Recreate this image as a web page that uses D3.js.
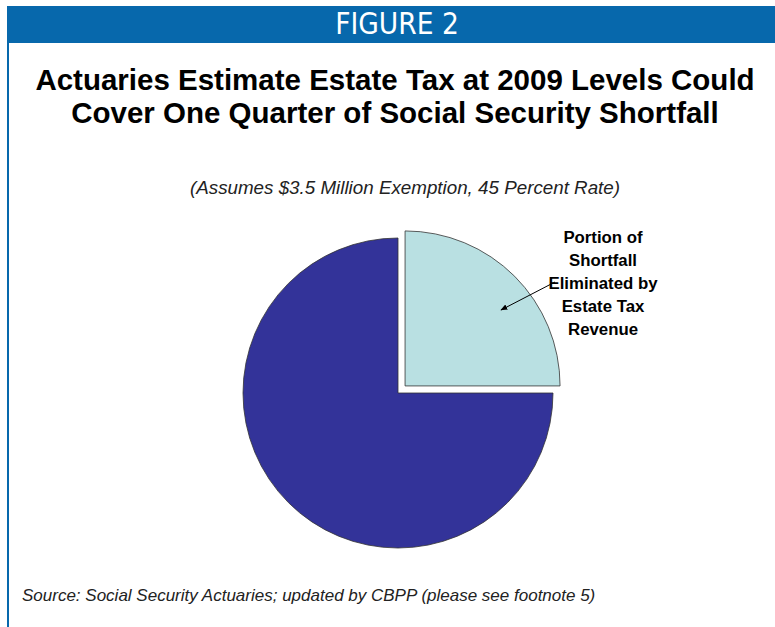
<!DOCTYPE html>
<html>
<head>
<meta charset="utf-8">
<script src="https://cdn.jsdelivr.net/npm/d3@7"></script>
<style>
  body { margin: 0; background: #fff; }
  svg { display: block; }
</style>
</head>
<body>
<svg id="chart"></svg>
<script>
// data
const categories = ["Portion of Shortfall Eliminated by Estate Tax Revenue", "Remaining Shortfall"];
const shares = [25, 75];
const colors = ["#b9e0e2", "#333399"];
const labelLines = ["Portion of", "Shortfall", "Eliminated by", "Estate Tax", "Revenue"];
const titleLines = ["Actuaries Estimate Estate Tax at 2009 Levels Could", "Cover One Quarter of Social Security Shortfall"];
const subtitle = "(Assumes $3.5 Million Exemption, 45 Percent Rate)";
const source = "Source: Social Security Actuaries; updated by CBPP (please see footnote 5)";

const width = 775, height = 627;

const svg = d3.select("#chart")
    .attr("width", width)
    .attr("height", height)
    .attr("font-family", "'Liberation Sans', Arial, sans-serif");

svg.append("defs").append("marker")
    .attr("id", "arrow")
    .attr("viewBox", "0 0 10 10")
    .attr("refX", 9).attr("refY", 5)
    .attr("markerWidth", 7).attr("markerHeight", 7)
    .attr("orient", "auto")
  .append("path")
    .attr("d", "M0,1 L10,5 L0,9 z")
    .attr("fill", "#000");

// header band + left rule
svg.append("rect")
    .attr("x", 7).attr("y", 6)
    .attr("width", width - 7).attr("height", 37)
    .attr("fill", "#0768ac");
svg.append("rect")
    .attr("x", 7).attr("y", 43)
    .attr("width", 2).attr("height", height - 43)
    .attr("fill", "#0768ac");

svg.append("text")
    .attr("x", 397).attr("y", 34)
    .attr("text-anchor", "middle")
    .attr("fill", "#fff")
    .attr("font-family", "'DejaVu Sans Condensed', 'DejaVu Sans', sans-serif")
    .style("font-stretch", "condensed")
    .attr("font-size", 29.5)
    .text("FIGURE 2");

svg.append("g")
    .attr("font-weight", "bold")
    .attr("font-size", 29.5)
    .attr("text-anchor", "middle")
  .selectAll("text")
  .data(titleLines)
  .join("text")
    .attr("x", 395)
    .attr("y", (d, i) => 90 + i * 33)
    .text(d => d);

svg.append("text")
    .attr("x", 405).attr("y", 194)
    .attr("text-anchor", "middle")
    .attr("font-style", "italic")
    .attr("font-size", 18.8)
    .attr("fill", "#222")
    .text(subtitle);

// pie
const cx = 398, cy = 393, r = 155, explode = 10;
const pie = d3.pie().sort(null).value(d => d)(shares);
const arc = d3.arc().innerRadius(0).outerRadius(r);

const g = svg.append("g").attr("transform", `translate(${cx},${cy})`);
g.selectAll("path")
  .data(pie)
  .join("path")
    .attr("d", arc)
    .attr("fill", (d, i) => colors[i])
    .attr("stroke", "#333")
    .attr("stroke-width", 0.8)
    .attr("transform", (d, i) => {
      if (i !== 0) return null;
      const mid = (d.startAngle + d.endAngle) / 2;
      return `translate(${Math.sin(mid) * explode},${-Math.cos(mid) * explode})`;
    });

// label + arrow
svg.append("g")
    .attr("font-weight", "bold")
    .attr("font-size", 16.8)
    .attr("text-anchor", "middle")
  .selectAll("text")
  .data(labelLines)
  .join("text")
    .attr("x", 603)
    .attr("y", (d, i) => 243 + i * 23)
    .text(d => d);

svg.append("line")
    .attr("x1", 555).attr("y1", 282)
    .attr("x2", 501).attr("y2", 310)
    .attr("stroke", "#000")
    .attr("stroke-width", 1)
    .attr("marker-end", "url(#arrow)");

svg.append("text")
    .attr("x", 22).attr("y", 601)
    .attr("font-style", "italic")
    .attr("font-size", 17)
    .attr("fill", "#222")
    .text(source);
</script>
</body>
</html>
